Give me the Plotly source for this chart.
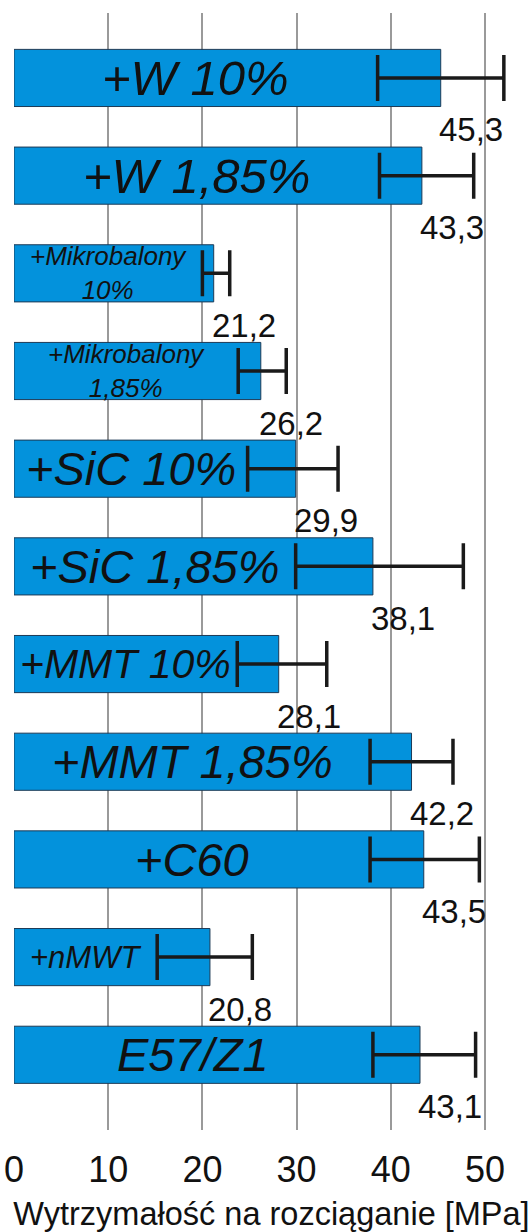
import plotly.graph_objects as go

# Categories from bottom to top
categories = ["E57/Z1", "+nMWT", "+C60", "+MMT 1,85%", "+MMT 10%",
              "+SiC 1,85%", "+SiC 10%", "+Mikrobalony 1,85%",
              "+Mikrobalony 10%", "+W 1,85%", "+W 10%"]
bar_labels = ["E57/Z1", "+nMWT", "+C60", "+MMT 1,85%", "+MMT 10%",
              "+SiC 1,85%", "+SiC 10%", "+Mikrobalony<br>1,85%",
              "+Mikrobalony<br>10%", "+W 1,85%", "+W 10%"]
values = [43.1, 20.8, 43.5, 42.2, 28.1, 38.1, 29.9, 26.2, 21.2, 43.3, 45.3]
value_labels = ["43,1", "20,8", "43,5", "42,2", "28,1", "38,1", "29,9",
                "26,2", "21,2", "43,3", "45,3"]
err_plus = [5.9, 4.5, 5.9, 4.4, 5.1, 9.6, 4.5, 2.7, 1.7, 5.5, 6.7]
err_minus = [5.0, 5.6, 5.7, 4.4, 4.4, 8.2, 5.1, 2.4, 1.2, 4.5, 6.7]
label_sizes = [47, 31, 47, 47, 41, 47, 47, 26, 26, 49, 49]
x_ticks = [0, 10, 20, 30, 40, 50]

FONT = "Arial, Liberation Sans, sans-serif"

fig = go.Figure()
fig.add_trace(go.Bar(
    y=categories, x=values, orientation="h",
    marker=dict(color="#0392dc", line=dict(color="#1d3a56", width=1)),
    width=0.585,
    error_x=dict(type="data", symmetric=False, array=err_plus,
                 arrayminus=err_minus, color="#1a1a1a",
                 thickness=3.5, width=23),
    hoverinfo="x+y",
))

annotations = []
# bar name centred in the free part of the bar (left of the error bar)
for cat, lab, v, em, s in zip(categories, bar_labels, values, err_minus, label_sizes):
    annotations.append(dict(
        x=(v - em) / 2, y=cat, xref="x", yref="y", text="<i>" + lab + "</i>",
        showarrow=False, xanchor="center", yanchor="middle",
        font=dict(family=FONT, size=s, color="#111111"),
    ))
for cat, vl, v in zip(categories, value_labels, values):
    annotations.append(dict(
        x=v, y=cat, xref="x", yref="y", text=vl, showarrow=False,
        xanchor="left", yanchor="middle", xshift=-4, yshift=-52,
        font=dict(family=FONT, size=33, color="#111111"),
    ))

fig.update_layout(
    width=529, height=1232,
    margin=dict(l=14, r=0, t=13, b=102, autoexpand=False),
    paper_bgcolor="white", plot_bgcolor="white",
    showlegend=False,
    annotations=annotations,
    xaxis=dict(
        range=[0, 54.67], tickvals=x_ticks, ticktext=[str(t) for t in x_ticks],
        showgrid=True, gridcolor="#9a9a9a", gridwidth=1.5,
        zeroline=False, showline=False, automargin=False,
        ticklabeloverflow="allow",
        ticks="outside", ticklen=8, tickcolor="rgba(0,0,0,0)",
        tickfont=dict(family=FONT, size=36, color="#111111"),
        title=dict(text="Wytrzymałość na rozciąganie [MPa]", standoff=14,
                   font=dict(family=FONT, size=32.5, color="#111111")),
    ),
    yaxis=dict(
        type="category", categoryorder="array", categoryarray=categories,
        range=[-0.77, 10.665], showticklabels=False, showgrid=False,
        zeroline=False, showline=False, ticks="", automargin=False,
    ),
)

fig.write_html("out.html", config={"displayModeBar": False},
               post_script="document.body.style.margin='0';document.body.style.overflow='hidden';")
